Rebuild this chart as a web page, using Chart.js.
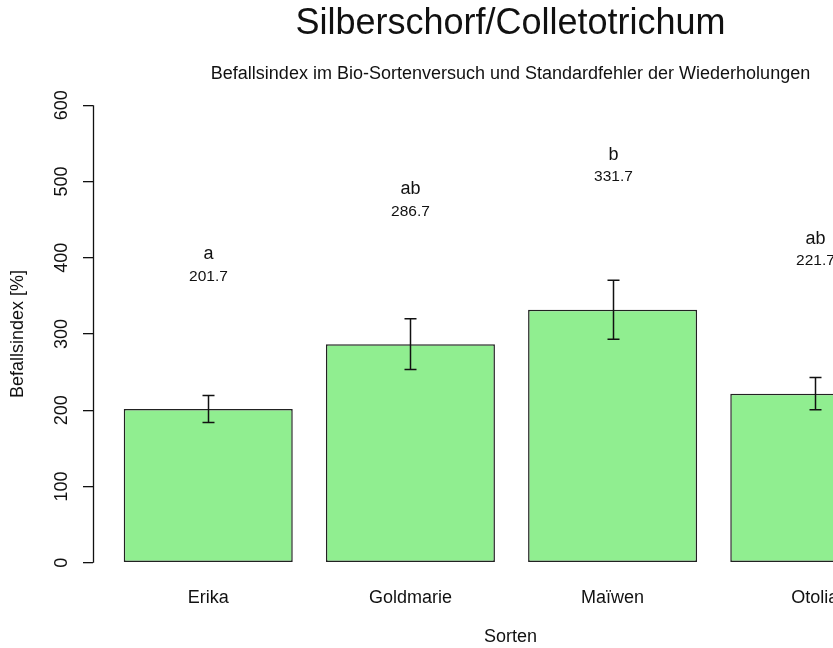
<!DOCTYPE html>
<html>

<head>
    <meta charset='utf-8'>
    <title>Silberschorf/Colletotrichum</title>
    <script src="https://cdn.jsdelivr.net/npm/chart.js@4"></script>
    <style>
        body { margin: 0; overflow: hidden; background: #fff; }
    </style>
    <script>
        // Daten aus dem Bio-Sortenversuch
        const sorten = ['Erika', 'Goldmarie', 'Maïwen', 'Otolia'];
        const befallsindex = [201.7, 286.7, 331.7, 221.7];
        const standardfehler = [17.7, 33.2, 38.7, 21.2];
        const buchstaben = ['a', 'ab', 'b', 'ab'];
        const yTicks = [0, 100, 200, 300, 400, 500, 600];

        const SCHRIFT = '"Liberation Sans", Arial, sans-serif';

        // Fehlerbalken + Beschriftung ueber den Balken
        const fehlerbalken = {
            id: 'fehlerbalken',
            afterDraw(chart) {
                const ctx = chart.ctx;
                const x = chart.scales.x;
                const y = chart.scales.y;
                ctx.save();
                ctx.strokeStyle = '#111';
                ctx.lineWidth = 1.5;
                for (let i = 0; i < sorten.length; i++) {
                    const px = Math.round(x.getPixelForValue(i)) + 0.5;
                    const oben = y.getPixelForValue(befallsindex[i] + standardfehler[i]);
                    const unten = y.getPixelForValue(befallsindex[i] - standardfehler[i]);
                    ctx.beginPath();
                    ctx.moveTo(px, oben); ctx.lineTo(px, unten);
                    ctx.moveTo(px - 6, oben); ctx.lineTo(px + 6, oben);
                    ctx.moveTo(px - 6, unten); ctx.lineTo(px + 6, unten);
                    ctx.stroke();

                    ctx.fillStyle = '#111';
                    ctx.textAlign = 'center';
                    ctx.textBaseline = 'middle';
                    ctx.font = '18px ' + SCHRIFT;
                    ctx.fillText(buchstaben[i], px, y.getPixelForValue(befallsindex[i] + 203));
                    ctx.font = '15.5px ' + SCHRIFT;
                    ctx.fillText(befallsindex[i].toFixed(1), px, y.getPixelForValue(befallsindex[i] + 174));
                }
                // y-Achse nur von 0 bis 600 wie in R
                ctx.beginPath();
                ctx.lineWidth = 1.3;
                const ax = Math.round(chart.chartArea.left) + 0.5;
                ctx.moveTo(ax, y.getPixelForValue(yTicks[0]));
                ctx.lineTo(ax, y.getPixelForValue(yTicks[yTicks.length - 1]));
                ctx.stroke();
                ctx.restore();
            }
        };

        function dibujar() {
            const ctx = document.getElementById('grafik').getContext('2d');
            Chart.defaults.font.family = SCHRIFT;
            Chart.defaults.color = '#111';
            new Chart(ctx, {
                type: 'bar',
                data: {
                    datasets: [{
                        label: 'Befallsindex',
                        data: sorten.map((s, i) => ({ x: i, y: befallsindex[i] })),
                        backgroundColor: '#90EE90',
                        borderColor: '#222',
                        borderWidth: 1.5,
                        borderSkipped: false,
                        categoryPercentage: 1,
                        barPercentage: 0.836
                    }]
                },
                options: {
                    responsive: false,
                    animation: false,
                    layout: { padding: { left: 0, right: 42, top: 0, bottom: 0 } },
                    plugins: {
                        legend: { display: false },
                        tooltip: { enabled: false },
                        title: {
                            display: true,
                            text: 'Silberschorf/Colletotrichum',
                            fullSize: false,
                            color: '#111',
                            font: { size: 36, weight: 'normal' },
                            padding: { top: 2.5, bottom: 8 }
                        },
                        subtitle: {
                            display: true,
                            text: 'Befallsindex im Bio-Sortenversuch und Standardfehler der Wiederholungen',
                            fullSize: false,
                            color: '#111',
                            font: { size: 18 },
                            padding: { top: 9.2, bottom: 2.5 }
                        }
                    },
                    scales: {
                        x: {
                            type: 'linear',
                            offset: false,
                            min: -0.57,
                            max: 3.56,
                            grid: { display: false, drawTicks: false },
                            border: { display: false },
                            afterBuildTicks: (s) => { s.ticks = sorten.map((n, i) => ({ value: i })); },
                            afterFit: (s) => { s.height = 67; },
                            ticks: {
                                autoSkip: false,
                                maxRotation: 0,
                                minRotation: 0,
                                padding: 6,
                                font: { size: 18 },
                                callback: (v) => sorten[v]
                            },
                            title: {
                                display: true,
                                text: 'Sorten',
                                font: { size: 18 },
                                padding: { top: 0, bottom: 0 }
                            }
                        },
                        y: {
                            min: -24,
                            max: 624,
                            afterBuildTicks: (s) => { s.ticks = yTicks.map(v => ({ value: v })); },
                            afterFit: (s) => { s.width = 93; },
                            border: { display: false },
                            grid: {
                                display: true,
                                drawOnChartArea: false,
                                drawTicks: true,
                                tickLength: 10,
                                lineWidth: 1.3,
                                color: '#111'
                            },
                            ticks: {
                                minRotation: 90,
                                maxRotation: 90,
                                crossAlign: 'center',
                                padding: 6,
                                font: { size: 18 }
                            },
                            title: {
                                display: true,
                                text: 'Befallsindex [%]',
                                font: { size: 18 },
                                padding: { top: 7, bottom: 0 }
                            }
                        }
                    }
                },
                plugins: [fehlerbalken]
            });
        }
        onload = dibujar;
    </script>
</head>

<body>
    <canvas id="grafik" width="970" height="648"></canvas>
</body>

</html>
